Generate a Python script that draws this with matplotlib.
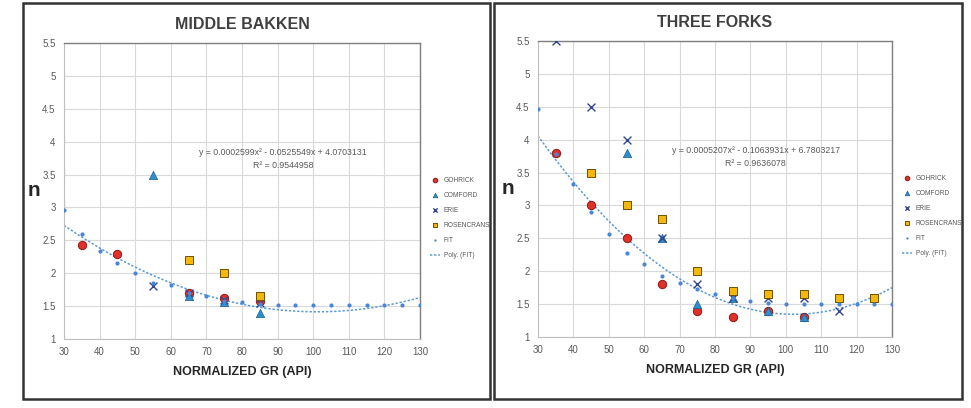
import numpy as np
import matplotlib
matplotlib.use("Agg")
from matplotlib import pyplot as plt
from matplotlib.patches import Rectangle

plt.rcParams['font.family'] = ['Liberation Sans', 'DejaVu Sans']

# ---- data ----
gr_fit = [30, 35, 40, 45, 50, 55, 60, 65, 70, 75, 80, 85, 90, 95, 100, 105, 110, 115, 120, 125, 130]

# MIDDLE BAKKEN
mb_gohrick_x = [35, 45, 65, 75, 85]
mb_gohrick_y = [2.43, 2.29, 1.70, 1.62, 1.58]
mb_comford_x = [55, 65, 75, 85]
mb_comford_y = [3.5, 1.65, 1.57, 1.40]
mb_erie_x = [55, 65, 75, 85]
mb_erie_y = [1.80, 1.70, 1.60, 1.55]
mb_rosen_x = [65, 75, 85]
mb_rosen_y = [2.2, 2.0, 1.65]
mb_fit_y = [2.96, 2.60, 2.34, 2.15, 2.01, 1.85, 1.82, 1.70, 1.65, 1.58, 1.56, 1.53,
            1.51, 1.51, 1.51, 1.51, 1.51, 1.51, 1.51, 1.51, 1.51]
mb_coef = [0.0002599, -0.0525549, 4.0703131]
mb_eq = "y = 0.0002599x² - 0.0525549x + 4.0703131"
mb_r2 = "R² = 0.9544958"

# THREE FORKS
tf_gohrick_x = [35, 45, 55, 65, 75, 85, 95, 105]
tf_gohrick_y = [3.8, 3.0, 2.5, 1.8, 1.4, 1.3, 1.4, 1.3]
tf_comford_x = [55, 65, 75, 85, 95, 105]
tf_comford_y = [3.8, 2.5, 1.5, 1.6, 1.4, 1.3]
tf_erie_x = [35, 45, 55, 65, 75, 85, 95, 105, 115]
tf_erie_y = [5.5, 4.5, 4.0, 2.5, 1.8, 1.6, 1.6, 1.6, 1.4]
tf_rosen_x = [45, 55, 65, 75, 85, 95, 105, 115, 125]
tf_rosen_y = [3.5, 3.0, 2.8, 2.0, 1.7, 1.65, 1.65, 1.6, 1.6]
tf_fit_y = [4.47, 3.78, 3.32, 2.90, 2.57, 2.28, 2.11, 1.93, 1.82, 1.73, 1.66, 1.60,
            1.55, 1.52, 1.50, 1.50, 1.50, 1.50, 1.50, 1.50, 1.50]
tf_coef = [0.0005207, -0.1063931, 6.7803217]
tf_eq = "y = 0.0005207x² - 0.1063931x + 6.7803217"
tf_r2 = "R² = 0.9636078"

W, H = 971, 408
fig = plt.figure(figsize=(W / 100, H / 100), dpi=100)


def px_axes(x0, y0, x1, y1):
    return fig.add_axes([x0 / W, 1 - y1 / H, (x1 - x0) / W, (y1 - y0) / H])


def draw_panel(ax, title, gx, gy, cx, cy, ex, ey, rx, ry, fity, coef, eq, r2, eq_xy):
    ax.set_xlim(30, 130)
    ax.set_ylim(1, 5.5)
    ax.set_xticks(np.arange(30, 131, 10))
    ax.set_yticks(np.arange(1, 5.51, 0.5))
    ax.set_yticklabels(['1', '1.5', '2', '2.5', '3', '3.5', '4', '4.5', '5', '5.5'])
    ax.grid(True, color='#d9d9d9', lw=0.8)
    ax.set_axisbelow(True)
    for s in ['top', 'right']:
        ax.spines[s].set_color('#7f7f7f')
        ax.spines[s].set_linewidth(1.0)
    for s in ['left', 'bottom']:
        ax.spines[s].set_color('#bfbfbf')
        ax.spines[s].set_linewidth(0.8)
    ax.tick_params(length=0, labelsize=7, colors='#595959', pad=6)

    ax.scatter(gx, gy, s=36, marker='o', color='#e0302a', edgecolors='#8b1a14', linewidths=0.7,
               label='GOHRICK', zorder=3)
    ax.scatter(cx, cy, s=36, marker='^', color='#2e8fd0', edgecolors='#1d5f8f', linewidths=0.5,
               label='COMFORD', zorder=3)
    ax.scatter(ex, ey, s=32, marker='x', color='#34478a', linewidths=1.0,
               label='ERIE', zorder=3)
    ax.scatter(rx, ry, s=32, marker='s', color='#f4b80c', edgecolors='#6b5200', linewidths=0.7,
               label='ROSENCRANS', zorder=3)
    ax.scatter(gr_fit, fity, s=9, marker='o', color='#4a86d8', linewidths=0,
               label='FIT', zorder=4)
    xs = np.linspace(30, 130, 200)
    ax.plot(xs, np.polyval(coef, xs), color='#5b9bd5', lw=1.1, ls=(0, (1.5, 1.2)),
            label='Poly. (FIT)', zorder=2)

    ax.text(eq_xy[0], eq_xy[1], eq + "\n" + r2, transform=ax.transAxes, ha='center', va='top',
            fontsize=6.3, color='#595959', linespacing=1.5)
    ax.set_title(title, fontsize=11.5, fontweight='bold', color='#404040', pad=10)
    ax.set_xlabel('NORMALIZED GR (API)', fontsize=9, fontweight='bold', color='#262626', labelpad=6)
    ax.set_ylabel('n', fontsize=15, fontweight='bold', color='#262626', rotation=0,
                  labelpad=6, va='center')
    ax.legend(loc='upper left', bbox_to_anchor=(1.01, 0.57), frameon=False, fontsize=4.8,
              labelcolor='#595959', handlelength=1.5, handletextpad=0.5, markerscale=0.55,
              labelspacing=1.2, borderaxespad=0.6)


ax1 = px_axes(64, 43, 420, 339)
draw_panel(ax1, 'MIDDLE BAKKEN', mb_gohrick_x, mb_gohrick_y, mb_comford_x, mb_comford_y,
           mb_erie_x, mb_erie_y, mb_rosen_x, mb_rosen_y, mb_fit_y, mb_coef, mb_eq, mb_r2,
           (0.615, 0.645))

ax2 = px_axes(538, 41, 892, 337)
draw_panel(ax2, 'THREE FORKS', tf_gohrick_x, tf_gohrick_y, tf_comford_x, tf_comford_y,
           tf_erie_x, tf_erie_y, tf_rosen_x, tf_rosen_y, tf_fit_y, tf_coef, tf_eq, tf_r2,
           (0.615, 0.645))

# panel frames
for x0, x1 in [(23, 490), (494, 962)]:
    fig.patches.append(Rectangle((x0 / W, 1 - 399 / H), (x1 - x0) / W, (399 - 3) / H,
                                 transform=fig.transFigure, fill=False, ec='#333333', lw=1.8))

fig.savefig('out.png', dpi=100, facecolor='white')
